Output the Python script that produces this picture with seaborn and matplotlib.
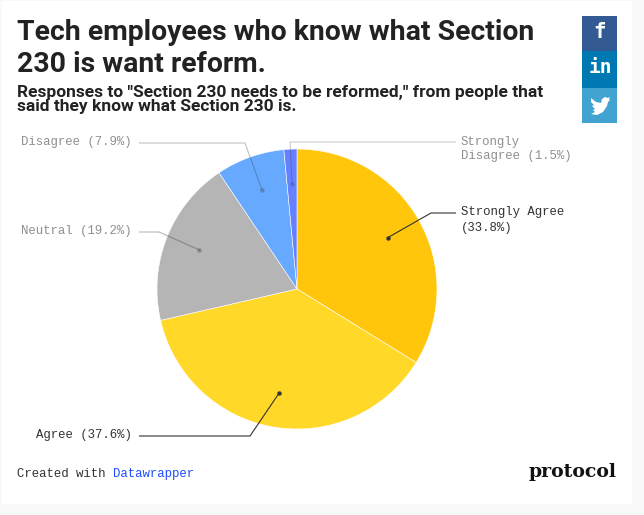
import matplotlib
matplotlib.use("Agg")
import matplotlib.pyplot as plt
from matplotlib.patches import Rectangle, Polygon
import seaborn as sns

categories = ["Strongly Agree", "Agree", "Neutral", "Disagree", "Strongly Disagree"]
values = [33.8, 37.6, 19.2, 7.9, 1.5]
colors = ["#ffc60b", "#ffd828", "#b5b5b5", "#66a9ff", "#6680ff"]

title_lines = ["Tech employees who know what Section", "230 is want reform."]
subtitle_lines = ['Responses to "Section 230 needs to be reformed," from people that',
                  "said they know what Section 230 is."]

sns.set_theme(style="white")
W, H = 644, 515
fig = plt.figure(figsize=(W / 100, H / 100), dpi=100, facecolor="#f9f9f9")

# pixel overlay
ov = fig.add_axes([0, 0, 1, 1], zorder=3)
ov.set_xlim(0, W); ov.set_ylim(H, 0); ov.axis("off")
bg = fig.add_axes([0, 0, 1, 1], zorder=0)
bg.set_xlim(0, W); bg.set_ylim(H, 0); bg.axis("off")
bg.add_patch(Rectangle((2, 1), 630, 503, fc="white", ec="none"))

# pie
cx, cy, r = 297, 289, 140
pie = fig.add_axes([(cx - r) / W, 1 - (cy + r) / H, 2 * r / W, 2 * r / H], zorder=2)
pie.pie(values, colors=sns.color_palette(colors), startangle=90, counterclock=False, radius=1,
        wedgeprops=dict(edgecolor="white", linewidth=0.4))
pie.set_xlim(-1, 1); pie.set_ylim(-1, 1)

TITLE = ["Roboto", "DejaVu Sans"]
for y, s in zip([32, 64], title_lines):
    ov.text(17, y, s, fontsize=20.4, fontweight="bold", family=TITLE, color="#222222", va="center", ha="left")
for y, s in zip([92, 107], subtitle_lines):
    ov.text(17, y, s, fontsize=12.5, fontweight="bold", family=TITLE, color="#222222", va="center", ha="left")

MONO = ["Liberation Mono", "DejaVu Sans Mono"]
dark, grey = "#333333", "#8f8f8f"
def label(x, y, s, c, ha="left"):
    ov.text(x, y, s, fontsize=8.9, family=MONO, color=c, va="center", ha=ha)

# leaders
def leader(xs, ys, c, lw=0.8, alpha=1):
    ov.plot(xs, ys, color=c, lw=lw, alpha=alpha, solid_capstyle="butt")
    ov.plot(xs[-1], ys[-1], "o", color=c, ms=3.2, alpha=alpha, mec="none")

leader([456, 431, 388], [213, 213, 237.5], "#333333")
leader([139, 250, 279.5], [436, 436, 392.5], "#333333")
leader([139, 159, 199.5], [232, 232, 250], "#333333", alpha=.35)
leader([139, 245, 262], [143, 143, 190], "#333333", alpha=.3)
leader([456, 290, 292], [142, 142, 184], "#333333", alpha=.25)

label(461, 212.5, "Strongly Agree", dark)
label(461, 228, "(33.8%)", dark)
label(132, 435, "Agree (37.6%)", dark, "right")
label(132, 231, "Neutral (19.2%)", grey, "right")
label(132, 142.5, "Disagree (7.9%)", grey, "right")
label(461, 141.5, "Strongly", grey)
label(461, 156.5, "Disagree (1.5%)", grey)

# footer
ov.text(17, 474, "Created with ", fontsize=8.9, family=MONO, color=dark, va="center")
ov.text(113, 474, "Datawrapper", fontsize=8.9, family=MONO, color="#1d4dff", va="center")
ov.text(617, 472, "protocol", fontsize=13.6, fontweight="bold", family=["DejaVu Serif"],
        color="#111111", va="center", ha="right")

# share buttons
for y0, y1, c in [(16, 51, "#335a92"), (51, 88, "#0079b2"), (88, 123, "#43a3d0")]:
    ov.add_patch(Rectangle((582, y0), 35, y1 - y0, fc=c, ec="none"))
ov.text(600, 32, "f", color="white", fontsize=15, fontweight="bold", family=["DejaVu Sans Mono"], ha="center", va="center")
ov.text(600, 67.5, "in", color="white", fontsize=14, fontweight="bold", family=["DejaVu Sans Mono"], ha="center", va="center")
bird = [(591,98),(596,102),(601,103),(602,99),(605,97),(608,98),(610,97),(609,100),(610,100),(608,102),
        (607,106),(603,112),(597,115),(591,114),(595,112),(593,110),(595,109),(592,106),(594,105),(591,102)]
ov.add_patch(Polygon(bird, closed=True, fc="white", ec="none"))

fig.savefig("out.png", dpi=100, facecolor=fig.get_facecolor())
